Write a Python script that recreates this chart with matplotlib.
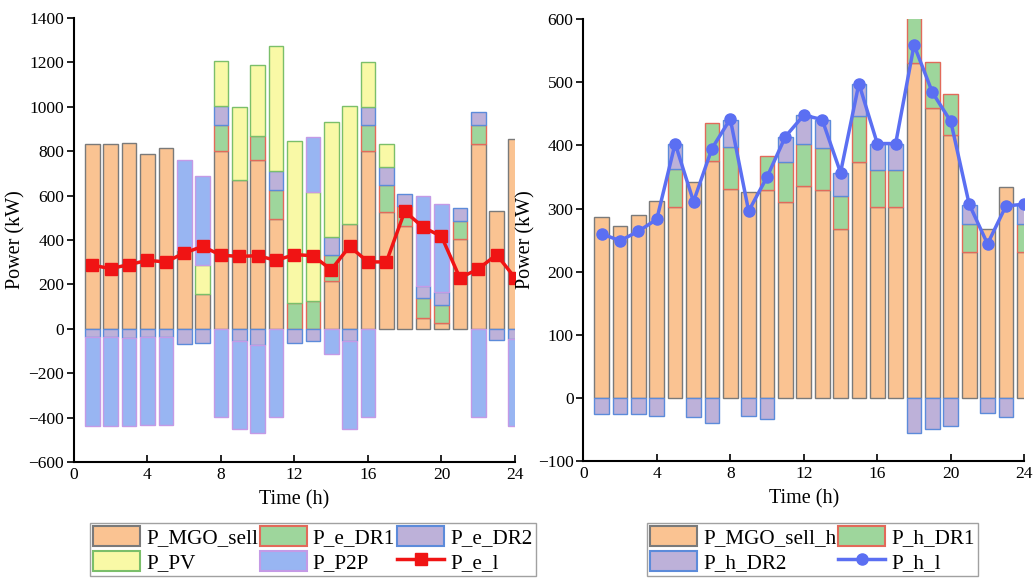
import matplotlib
matplotlib.use("Agg")
import matplotlib.pyplot as plt
import numpy as np

plt.rcParams['font.family'] = ['Liberation Serif', 'DejaVu Serif']

hours = list(range(1, 25))

# ---------------- Electricity (left) ----------------
p_mgo_sell = [830, 833, 836, 785, 812, 356, 158, 800, 668, 758, 493, 0,
              0, 213, 474, 800, 525, 461, 48, 26, 406, 834, 532, 853]
p_e_dr1 = [0, 0, 0, 0, 0, 0, 0, 119, 0, 108, 131, 117,
           123, 118, 0, 116, 121, 91, 90, 82, 81, 85, 0, 0]
p_e_dr2_pos = [0, 0, 0, 0, 0, 0, 0, 84, 0, 0, 86, 0,
               0, 83, 0, 84, 83, 57, 56, 56, 57, 57, 0, 0]
p_pv = [0, 0, 0, 0, 0, 0, 131, 201, 330, 320, 562, 730,
        493, 517, 529, 200, 101, 0, 0, 0, 0, 0, 0, 0]
p_p2p_pos = [0, 0, 0, 0, 0, 403, 401, 0, 0, 0, 0, 0,
             249, 0, 0, 0, 0, 0, 403, 400, 0, 0, 0, 0]
p_e_dr2_neg = [-39, -39, -40, -35, -39, -68, -62, 0, -56, -72, 0, -65,
               -56, 0, -54, 0, 0, 0, 0, 0, 0, 0, -50, -45]
p_p2p_neg = [-398, -398, -400, -397, -396, 0, 0, -398, -396, -398, -398, 0,
             0, -112, -398, -398, 0, 0, 0, 0, 0, -398, 0, -392]
p_e_l = [286, 271, 289, 308, 301, 341, 371, 331, 326, 329, 308, 334,
         329, 266, 371, 301, 301, 529, 457, 416, 229, 269, 334, 229]

# ---------------- Heat (right) ----------------
p_mgo_sell_h = [287, 273, 290, 312, 303, 342, 376, 331, 326, 330, 311, 336,
                330, 268, 373, 303, 303, 531, 460, 417, 231, 268, 334, 231]
p_h_dr1 = [0, 0, 0, 0, 59, 0, 59, 67, 0, 53, 62, 67,
           66, 52, 74, 58, 58, 72, 72, 64, 45, 0, 0, 45]
p_h_dr2_pos = [0, 0, 0, 0, 41, 0, 0, 43, 0, 0, 41, 45,
               44, 36, 50, 42, 42, 0, 0, 0, 30, 0, 0, 30]
p_h_dr2_neg = [-26, -25, -26, -29, 0, -31, -40, 0, -29, -34, 0, 0,
               0, 0, 0, 0, 0, -56, -49, -44, 0, -24, -31, 0]
p_h_l = [260, 249, 264, 283, 403, 311, 395, 442, 296, 350, 414, 448,
         441, 357, 498, 403, 403, 559, 484, 438, 307, 244, 304, 307]

# colours
c_or, e_or = '#FAC392', '#7A7A7A'
c_gr, e_gr = '#9ED69C', '#E26A5A'
c_pu, e_pu = '#BDB1D9', '#5C8BDA'
c_ye, e_ye = '#F9F9A6', '#7BBF6A'
c_bl, e_bl = '#98B5F2', '#C49AE6'
c_red = '#F01414'
c_blu = '#5B6FF2'

W = 0.8
LW = 1.0


def sbar(ax, x, h, bottom, fc, ec):
    """Stacked bar segment; zero-height segments are not drawn."""
    h = np.asarray(h, dtype=float)
    b = np.zeros_like(h) if bottom is None else np.asarray(bottom, dtype=float)
    m = h != 0
    ax.bar(x[m], h[m], W, bottom=b[m], color=fc, edgecolor=ec, linewidth=LW)
    return ax.bar([np.nan], [np.nan], W, color=fc, edgecolor=ec, linewidth=1.5)


fig = plt.figure(figsize=(10.36, 5.79), dpi=100)
ax1 = fig.add_axes([0.0714, 0.2021, 0.4257, 0.767])
ax2 = fig.add_axes([0.563, 0.2038, 0.4257, 0.763])

x = np.array(hours)
mgo = np.array(p_mgo_sell)
dr1 = np.array(p_e_dr1)
dr2 = np.array(p_e_dr2_pos)
pv = np.array(p_pv)
p2p = np.array(p_p2p_pos)

h_mgo = sbar(ax1, x, mgo, None, c_or, e_or)
h_dr1 = sbar(ax1, x, dr1, mgo, c_gr, e_gr)
h_dr2 = sbar(ax1, x, dr2, mgo + dr1, c_pu, e_pu)
h_pv = sbar(ax1, x, pv, mgo + dr1 + dr2, c_ye, e_ye)
h_p2p = sbar(ax1, x, p2p, mgo + dr1 + dr2 + pv, c_bl, e_bl)
dr2n = np.array(p_e_dr2_neg)
sbar(ax1, x, dr2n, None, c_pu, e_pu)
sbar(ax1, x, np.array(p_p2p_neg), dr2n, c_bl, e_bl)
h_el, = ax1.plot(x, p_e_l, color=c_red, lw=2.5, marker='s', markersize=8)

ax1.set_xlim(0, 24)
ax1.set_ylim(-600, 1400)
ax1.set_yticks(np.arange(-600, 1401, 200))
ax1.set_xticks(np.arange(0, 25, 4))

hm = np.array(p_mgo_sell_h)
hd1 = np.array(p_h_dr1)
hd2 = np.array(p_h_dr2_pos)
g_mgo = sbar(ax2, x, hm, None, c_or, e_or)
g_dr1 = sbar(ax2, x, hd1, hm, c_gr, e_gr)
g_dr2 = sbar(ax2, x, hd2, hm + hd1, c_pu, e_pu)
sbar(ax2, x, np.array(p_h_dr2_neg), None, c_pu, e_pu)
g_hl, = ax2.plot(x, p_h_l, color=c_blu, lw=2.5, marker='o', markersize=8)

ax2.set_xlim(0, 24)
ax2.set_ylim(-100, 600)
ax2.set_yticks(np.arange(-100, 601, 100))
ax2.set_xticks(np.arange(0, 25, 4))

for ax in (ax1, ax2):
    ax.spines['top'].set_visible(False)
    ax.spines['right'].set_visible(False)
    ax.spines['left'].set_linewidth(1.5)
    ax.spines['bottom'].set_linewidth(1.5)
    ax.tick_params(axis='y', direction='out', length=5, width=1.2, labelsize=12.5, pad=2)
    ax.tick_params(axis='x', direction='in', length=5, width=1.2, labelsize=12.5)
    ax.set_xlabel('Time (h)', fontsize=14.5, labelpad=5)
    ax.set_ylabel('Power (kW)', fontsize=14.5, labelpad=2)

leg1 = fig.legend([h_mgo, h_pv, h_dr1, h_p2p, h_dr2, h_el],
                  ['P_MGO_sell', 'P_PV', 'P_e_DR1', 'P_P2P', 'P_e_DR2', 'P_e_l'],
                  ncol=3, loc='upper left', bbox_to_anchor=(0.0869, 0.0967),
                  fontsize=15.2, frameon=True, fancybox=False, edgecolor='#8A8A8A',
                  handlelength=2.2, handleheight=1.1, handletextpad=0.3,
                  columnspacing=0.1, labelspacing=0.1, borderpad=0.15,
                  borderaxespad=0)
leg1.get_frame().set_linewidth(1.0)

leg2 = fig.legend([g_mgo, g_dr2, g_dr1, g_hl],
                  ['P_MGO_sell_h', 'P_h_DR2', 'P_h_DR1', 'P_h_l'],
                  ncol=2, loc='upper left', bbox_to_anchor=(0.6245, 0.0967),
                  fontsize=15.2, frameon=True, fancybox=False, edgecolor='#8A8A8A',
                  handlelength=2.2, handleheight=1.1, handletextpad=0.3,
                  columnspacing=0.1, labelspacing=0.1, borderpad=0.15,
                  borderaxespad=0)
leg2.get_frame().set_linewidth(1.0)

fig.savefig('out.png', dpi=100)
